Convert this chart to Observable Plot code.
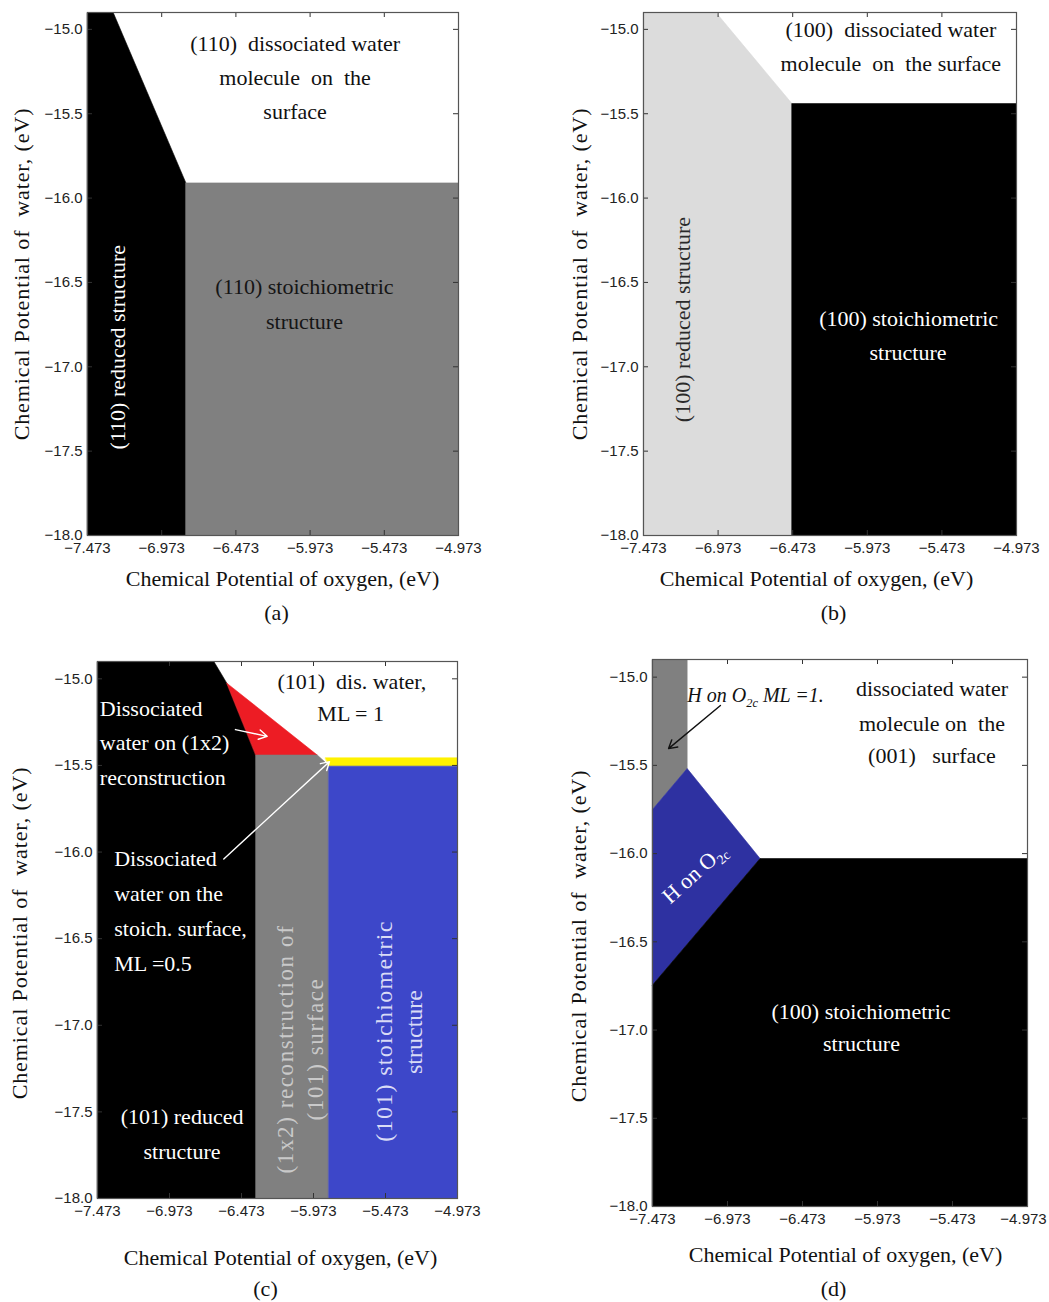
<!DOCTYPE html>
<html>
<head>
<meta charset="utf-8">
<script src="https://cdn.jsdelivr.net/npm/d3@7"></script>
<script src="https://cdn.jsdelivr.net/npm/@observablehq/plot@0.6"></script>
<style>
  html, body { margin: 0; padding: 0; background: #fff; }
  #wrap { position: relative; width: 1049px; height: 1302px; overflow: hidden; background: #fff; }
  .panel { position: absolute; }
  .panel svg { display: block; }
</style>
</head>
<body>
<div id="wrap"></div>
<script>
// ---------- shared axes ----------
const xTicks = [-7.473, -6.973, -6.473, -5.973, -5.473, -4.973];
const yTicks = [-18.0, -17.5, -17.0, -16.5, -16.0, -15.5, -15.0];
const muODomain = [-7.473, -4.973];
const muWDomain = [-18.0, -14.9];
const xTitle = "Chemical Potential of oxygen, (eV)";
const yTitle = "Chemical Potential of  water, (eV)";

// ---------- panel (a): (110) phase regions [muO, muH2O] ----------
const a110_dissociated = [[-7.300, -14.9], [-4.973, -14.9], [-4.973, -15.91], [-6.810, -15.91]];
const a110_reduced = [[-7.473, -14.9], [-7.300, -14.9], [-6.810, -15.91], [-6.810, -18.0], [-7.473, -18.0]];
const a110_stoich = [[-6.810, -15.91], [-4.973, -15.91], [-4.973, -18.0], [-6.810, -18.0]];
const a_textTop = [
  {t: "(110)  dissociated water", x: -6.074, y: -15.087},
  {t: "molecule  on  the", x: -6.074, y: -15.286},
  {t: "surface", x: -6.074, y: -15.487}
];
const a_textStoich = [
  {t: "(110) stoichiometric", x: -6.011, y: -16.526},
  {t: "structure", x: -6.011, y: -16.732}
];
const a_textReduced = [{t: "(110) reduced structure", x: -7.27, y: -16.884}];

// ---------- panel (b): (100) ----------
const b100_dissociated = [[-6.987, -14.9], [-4.973, -14.9], [-4.973, -15.44], [-6.478, -15.44]];
const b100_reduced = [[-7.473, -14.9], [-6.987, -14.9], [-6.478, -15.44], [-6.478, -18.0], [-7.473, -18.0]];
const b100_stoich = [[-6.478, -15.44], [-4.973, -15.44], [-4.973, -18.0], [-6.478, -18.0]];
const b_textTop = [
  {t: "(100)  dissociated water", x: -5.815, y: -15.005},
  {t: "molecule  on  the surface", x: -5.815, y: -15.207}
];
const b_textStoich = [
  {t: "(100) stoichiometric", x: -5.696, y: -16.716},
  {t: "structure", x: -5.700, y: -16.920}
];
const b_textReduced = [{t: "(100) reduced structure", x: -7.21, y: -16.72}];

// ---------- panel (c): (101) ----------
const c101_reduced = [[-7.473, -14.9], [-6.665, -14.9], [-6.575, -15.025], [-6.373, -15.44], [-6.373, -18.0], [-7.473, -18.0]];
const c101_disRecon = [[-6.575, -15.025], [-5.947, -15.44], [-6.373, -15.44]];
const c101_dissociated = [[-6.665, -14.9], [-4.973, -14.9], [-4.973, -15.456], [-5.89, -15.456], [-5.947, -15.44], [-6.575, -15.025]];
const c101_recon = [[-6.373, -15.44], [-5.947, -15.44], [-5.867, -15.50], [-5.867, -18.0], [-6.373, -18.0]];
const c101_disStoich = [[-5.89, -15.456], [-4.973, -15.456], [-4.973, -15.504], [-5.867, -15.504]];
const c101_stoich = [[-5.867, -15.504], [-4.973, -15.504], [-4.973, -18.0], [-5.867, -18.0]];
const c_textTop = [
  {t: "(101)  dis. water,", x: -5.707, y: -15.017},
  {t: "ML = 1", x: -5.715, y: -15.200}
];
const c_textRecon1 = [
  {t: "Dissociated", x: -7.457, y: -15.176},
  {t: "water on (1x2)", x: -7.457, y: -15.373},
  {t: "reconstruction", x: -7.457, y: -15.573}
];
const c_textStoichWater = [
  {t: "Dissociated", x: -7.357, y: -16.041},
  {t: "water on the", x: -7.357, y: -16.244},
  {t: "stoich. surface,", x: -7.357, y: -16.446},
  {t: "ML =0.5", x: -7.357, y: -16.644}
];
const c_textReduced = [
  {t: "(101) reduced", x: -6.886, y: -17.529},
  {t: "structure", x: -6.886, y: -17.730}
];
const c_textRecon = [
  {t: "(1x2) reconstruction of", x: -6.165, y: -17.137},
  {t: "(101) surface", x: -5.956, y: -17.137}
];
const c_textStoich = [
  {t: "(101) stoichiometric", x: -5.483, y: -17.033},
  {t: "structure", x: -5.274, y: -17.039}
];
const c_arrows = [
  {x1: -6.515, y1: -15.293, x2: -6.295, y2: -15.332},
  {x1: -6.596, y1: -16.040, x2: -5.862, y2: -15.478}
];

// ---------- panel (d): (001) ----------
const d001_Hml1 = [[-7.473, -14.9], [-7.242, -14.9], [-7.242, -15.518], [-7.473, -15.750]];
const d001_H = [[-7.473, -15.750], [-7.242, -15.518], [-6.756, -16.028], [-7.473, -16.745]];
const d001_dissociated = [[-7.242, -14.9], [-4.973, -14.9], [-4.973, -16.028], [-6.756, -16.028], [-7.242, -15.518]];
const d001_stoich = [[-7.473, -16.745], [-6.756, -16.028], [-4.973, -16.028], [-4.973, -18.0], [-7.473, -18.0]];
const d_textTop = [
  {t: "dissociated water", x: -5.610, y: -15.065},
  {t: "molecule on  the", x: -5.610, y: -15.263},
  {t: "(001)   surface", x: -5.610, y: -15.447}
];
const d_textStoich = [
  {t: "(100) stoichiometric", x: -6.083, y: -16.896},
  {t: "structure", x: -6.080, y: -17.080}
];
const d_textHml1 = [{t: "H on O2c ML =1.", x: -6.786, y: -15.105}];
const d_textH = [{t: "H on O2c", x: -7.194, y: -16.113}];
const d_arrows = [{x1: -7.02, y1: -15.161, x2: -7.366, y2: -15.405}];

// ---------- rendering ----------
const SERIF = "'Liberation Serif', 'Times New Roman', serif";
const SANS = "'Liberation Sans', Arial, sans-serif";

function panel(cfg) {
  const fw = cfg.width - cfg.ml - cfg.mr;
  const fh = cfg.height - cfg.mt - cfg.mb;
  const TL = 5;
  const marks = [];
  for (const r of cfg.regions) {
    marks.push(Plot.line(r.pts, {x: d => d[0], y: d => d[1], fill: r.fill, stroke: r.fill, strokeWidth: 0.6, curve: "linear-closed"}));
  }
  // inward ticks on all four sides
  marks.push(Plot.tickX(xTicks, {x: d => d, insetTop: fh - TL, stroke: "#333"}));
  marks.push(Plot.tickX(xTicks, {x: d => d, insetBottom: fh - TL, stroke: "#333"}));
  marks.push(Plot.tickY(yTicks, {y: d => d, insetRight: fw - TL, stroke: "#333"}));
  marks.push(Plot.tickY(yTicks, {y: d => d, insetLeft: fw - TL, stroke: "#333"}));
  marks.push(Plot.frame({stroke: "#555", strokeWidth: 1.2}));
  for (const g of cfg.labels) {
    marks.push(Plot.text(g.data, {
      x: "x", y: "y", text: "t", fill: g.fill, fontSize: g.size || 22, fontFamily: SERIF,
      rotate: g.rotate || 0, textAnchor: g.anchor || "middle", lineAnchor: "middle",
      fontStyle: g.italic ? "italic" : "normal"
    }));
  }
  for (const a of (cfg.arrows || [])) {
    marks.push(Plot.arrow(a.data, {x1: "x1", y1: "y1", x2: "x2", y2: "y2", stroke: a.stroke, strokeWidth: 1.4, headLength: 10}));
  }
  marks.push(Plot.text([xTitle], {text: d => d, frameAnchor: "bottom", textAnchor: "middle", lineAnchor: "middle", dx: cfg.xt[0], dy: cfg.xt[1], fontSize: 22, fontFamily: SERIF, fill: "#111"}));
  marks.push(Plot.text([yTitle], {text: d => d, frameAnchor: "left", textAnchor: "middle", lineAnchor: "middle", rotate: -90, dx: cfg.yt[0], dy: cfg.yt[1], fontSize: 22, fontFamily: SERIF, fill: "#111"}));
  marks.push(Plot.text([cfg.caption], {text: d => d, frameAnchor: "bottom", textAnchor: "middle", lineAnchor: "middle", dx: cfg.cap[0], dy: cfg.cap[1], fontSize: 22, fontFamily: SERIF, fill: "#111"}));

  const svg = Plot.plot({
    width: cfg.width, height: cfg.height,
    marginLeft: cfg.ml, marginRight: cfg.mr, marginTop: cfg.mt, marginBottom: cfg.mb,
    style: {fontFamily: SANS, fontSize: "15px", color: "#222", background: "transparent", overflow: "visible"},
    x: {domain: muODomain, ticks: xTicks, tickFormat: d3.format(".3f"), tickSize: 0, tickPadding: 7, label: null},
    y: {domain: muWDomain, ticks: yTicks, tickFormat: d3.format(".1f"), tickSize: 0, tickPadding: 5, label: null},
    marks
  });
  // post-process: subscripts, letter spacing, edge label nudge
  const ns = "http://www.w3.org/2000/svg";
  svg.querySelectorAll("text").forEach(t => {
    const s = t.textContent;
    if (t.childElementCount === 0 && s.includes("O2c")) {
      const [pre, post] = s.split("O2c");
      t.textContent = "";
      t.appendChild(document.createTextNode(pre + "O"));
      const sub = document.createElementNS(ns, "tspan");
      sub.setAttribute("font-size", "62%");
      sub.setAttribute("dy", "5");
      sub.textContent = "2c";
      t.appendChild(sub);
      const rest = document.createElementNS(ns, "tspan");
      rest.setAttribute("dy", "-5");
      rest.textContent = post;
      t.appendChild(rest);
    }
    if (cfg.spacing && cfg.spacing[s] != null) t.setAttribute("letter-spacing", cfg.spacing[s]);
    if (cfg.edgeNudge && s === d3.format(".3f")(xTicks[xTicks.length - 1])) t.setAttribute("dx", cfg.edgeNudge);
  });
  const div = document.createElement("div");
  div.className = "panel";
  div.style.left = cfg.left + "px";
  div.style.top = cfg.top + "px";
  div.appendChild(svg);
  document.getElementById("wrap").appendChild(div);
}

const GRAY = "#808080", LIGHT = "#dcdcdc", BLACK = "#000000", WHITE = "#ffffff";

panel({
  left: 0, top: 0, width: 480, height: 630, ml: 87, mr: 22, mt: 12, mb: 95,
  xt: [9.5, 43], yt: [-66, 0], cap: [3.5, 77], caption: "(a)",
  spacing: {[yTitle]: 0.9},
  regions: [
    {pts: a110_dissociated, fill: WHITE},
    {pts: a110_reduced, fill: BLACK},
    {pts: a110_stoich, fill: GRAY}
  ],
  labels: [
    {data: a_textTop, fill: "#111"},
    {data: a_textStoich, fill: "#151515"},
    {data: a_textReduced, fill: "#fff", rotate: -90}
  ]
});

panel({
  left: 540, top: 0, width: 509, height: 630, ml: 103, mr: 33, mt: 12, mb: 95,
  xt: [-13.5, 43], yt: [-64, 0], cap: [3.5, 77], caption: "(b)",
  spacing: {[yTitle]: 0.9},
  regions: [
    {pts: b100_dissociated, fill: WHITE},
    {pts: b100_reduced, fill: LIGHT},
    {pts: b100_stoich, fill: BLACK}
  ],
  labels: [
    {data: b_textTop, fill: "#111"},
    {data: b_textStoich, fill: "#fff"},
    {data: b_textReduced, fill: "#2a2a2a", rotate: -90}
  ]
});

panel({
  left: 0, top: 640, width: 480, height: 662, ml: 97, mr: 23, mt: 21, mb: 104,
  xt: [3, 59], yt: [-78, 3], cap: [-12, 90], caption: "(c)",
  spacing: {[yTitle]: 0.9, "(1x2) reconstruction of": 1.6, "(101) surface": 1.6, "(101) stoichiometric": 1.3},
  regions: [
    {pts: c101_dissociated, fill: WHITE},
    {pts: c101_reduced, fill: BLACK},
    {pts: c101_disRecon, fill: "#ed1c24"},
    {pts: c101_recon, fill: GRAY},
    {pts: c101_disStoich, fill: "#fff200"},
    {pts: c101_stoich, fill: "#3d47c9"}
  ],
  labels: [
    {data: c_textTop, fill: "#111"},
    {data: c_textRecon1, fill: "#fff", anchor: "start"},
    {data: c_textStoichWater, fill: "#fff", anchor: "start"},
    {data: c_textReduced, fill: "#fff"},
    {data: c_textRecon, fill: "#c9c9c9", rotate: -90, size: 23},
    {data: c_textStoich, fill: "#d9dbf6", rotate: -90, size: 24}
  ],
  arrows: [{data: c_arrows, stroke: "#fff"}]
});

panel({
  left: 540, top: 640, width: 509, height: 662, ml: 112, mr: 22, mt: 19, mb: 96,
  xt: [5.5, 48], yt: [-74, 3], cap: [-6.5, 82], caption: "(d)",
  spacing: {[yTitle]: 0.9}, edgeNudge: -4,
  regions: [
    {pts: d001_dissociated, fill: WHITE},
    {pts: d001_Hml1, fill: GRAY},
    {pts: d001_H, fill: "#2e31a1"},
    {pts: d001_stoich, fill: BLACK}
  ],
  labels: [
    {data: d_textTop, fill: "#111"},
    {data: d_textStoich, fill: "#fff"},
    {data: d_textHml1, fill: "#111", italic: true, size: 20},
    {data: d_textH, fill: "#fff", rotate: -42, size: 22}
  ],
  arrows: [{data: d_arrows, stroke: "#111"}]
});
</script>
</body>
</html>
